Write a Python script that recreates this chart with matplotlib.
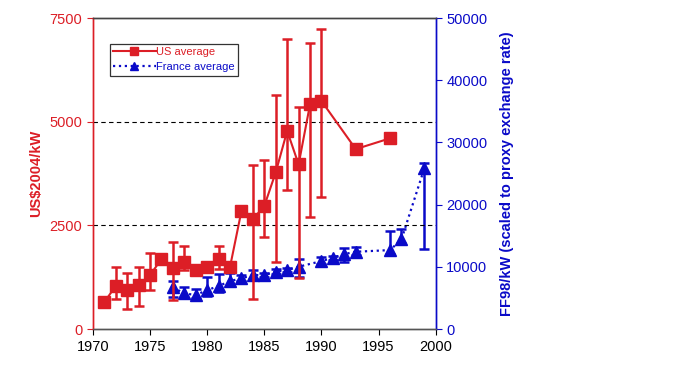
import numpy as np
import matplotlib
matplotlib.use('Agg')
import matplotlib.pyplot as plt

plt.rcParams['font.family'] = ['Liberation Sans', 'DejaVu Sans']

RED = '#dc1e26'
BLUE = '#0a0ac8'

# US average (US$2004/kW), with error bar bounds (nan = no bar)
us_years = [1971, 1972, 1973, 1974, 1975, 1976, 1977, 1978, 1979, 1980, 1981,
            1982, 1983, 1984, 1985, 1986, 1987, 1988, 1989, 1990, 1993, 1996]
us_cost = [650, 1040, 940, 1060, 1300, 1690, 1470, 1620, 1420, 1500, 1680,
           1500, 2850, 2650, 2970, 3780, 4780, 3970, 5420, 5500, 4340, 4600]
us_high = [np.nan, 1500, 1350, 1500, 1830, np.nan, 2100, 2000, np.nan, np.nan, 2000,
           np.nan, np.nan, 3950, 4080, 5640, 7000, 5360, 6890, 7230, np.nan, np.nan]
us_low = [np.nan, 720, 480, 555, 940, np.nan, 700, 1420, np.nan, np.nan, 1440,
          np.nan, np.nan, 720, 2230, 1610, 3350, 1240, 2710, 3190, np.nan, np.nan]

# France average (FF98/kW)
fr_years = [1977, 1978, 1979, 1980, 1981, 1982, 1983, 1984, 1985, 1986,
            1987, 1988, 1990, 1991, 1992, 1993, 1996, 1997, 1999]
fr_cost = [6700, 5740, 5470, 6270, 6910, 7720, 8150, 8680, 8680, 9220,
           9490, 10020, 10930, 11460, 12060, 12430, 12700, 14420, 25840]
fr_high = [7700, 6700, 6400, 8300, 8900, 9000, 8700, 9450, 9000, 9600,
           9800, 11200, 11550, 11800, 13000, 13150, 15800, 16050, 26650]
fr_low = [5150, 4950, 4950, 5300, 6000, 7000, 7700, 8000, 8300, 8800,
          9100, 8300, 10450, 11100, 10800, 11900, 12000, 13800, 12800]


def err_arrays(vals, high, low):
    """
    Asymmetric error lengths; nan bounds become zero-length bars.
    """
    v = np.array(vals, dtype=float)
    lo = np.nan_to_num(v - np.array(low, dtype=float))
    hi = np.nan_to_num(np.array(high, dtype=float) - v)
    return [lo, hi]


fig = plt.figure(figsize=(6.83, 3.84), dpi=100)
ax = fig.add_axes([0.136, 0.143, 0.502, 0.81])
ax2 = ax.twinx()

# US series
us_err = err_arrays(us_cost, us_high, us_low)
ax.errorbar(us_years, us_cost, yerr=us_err, fmt='none', ecolor=RED,
            elinewidth=1.8, capsize=3.5, capthick=1.8, zorder=2)
us_line, = ax.plot(us_years, us_cost, '-s', color=RED, lw=1.5,
                   markersize=8.5, zorder=3, label='US average')

# France series
fr_err = err_arrays(fr_cost, fr_high, fr_low)
ax2.errorbar(fr_years, fr_cost, yerr=fr_err, fmt='none', ecolor=BLUE,
             elinewidth=1.8, capsize=3.5, capthick=1.8, zorder=2)
fr_line, = ax2.plot(fr_years, fr_cost, ':^', color=BLUE, lw=1.6,
                    markersize=8, zorder=3, label='France average')

ax.set_zorder(ax2.get_zorder() + 1)
ax.patch.set_visible(False)

# axes limits & ticks
ax.set_xlim(1970, 2000)
ax.set_ylim(0, 7500)
ax2.set_ylim(0, 50000)
ax.set_xticks(np.arange(1970, 2001, 5))
ax.set_yticks([0, 2500, 5000, 7500])
ax2.set_yticks(np.arange(0, 50001, 10000))

for y in [2500, 5000]:
    ax.axhline(y, color='black', ls=(0, (4, 3)), lw=0.8, zorder=1)

ax.tick_params(axis='x', labelsize=10.5, colors='black', direction='out', length=4)
ax.tick_params(axis='y', labelsize=10.5, colors=RED, direction='out', length=4)
ax2.tick_params(axis='y', labelsize=10.5, colors=BLUE, direction='out', length=4)

for a in (ax, ax2):
    a.spines['left'].set_color(RED)
    a.spines['right'].set_color(BLUE)
    a.spines['top'].set_color('#444444')
    a.spines['bottom'].set_color('#555555')
    for s in a.spines.values():
        s.set_linewidth(1.0)

ax.set_ylabel('US$2004/kW', color=RED, fontsize=10.5, fontweight='bold', labelpad=5)
ax2.set_ylabel('FF98/kW (scaled to proxy exchange rate)', color=BLUE,
               fontsize=10.5, fontweight='bold', labelpad=9)

leg = ax.legend(handles=[us_line, fr_line], loc='upper left',
                bbox_to_anchor=(0.05, 0.917), fontsize=8, frameon=True,
                fancybox=False, edgecolor='black', handlelength=3.8,
                handletextpad=0.05, borderpad=0.3, labelspacing=0.45,
                borderaxespad=0, markerscale=0.75)
leg.get_frame().set_linewidth(0.9)
leg.get_texts()[0].set_color(RED)
leg.get_texts()[1].set_color(BLUE)

fig.savefig('out.png', dpi=100)
